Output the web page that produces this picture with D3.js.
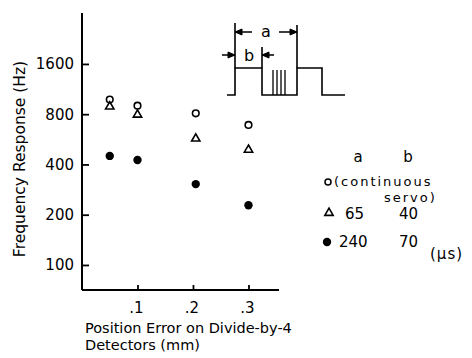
<!DOCTYPE html>
<html><head><meta charset="utf-8">
<script src="https://cdn.jsdelivr.net/npm/d3@7"></script>
<style>body{margin:0;background:#fff}svg{display:block}text{font-family:"DejaVu Sans",sans-serif;fill:#000}</style>
</head><body>
<script>
// data
const xValues = [0.05, 0.10, 0.205, 0.30];
const continuousServo = [980, 900, 810, 690];
const series65 = [895, 800, 575, 493];
const series240 = [450, 425, 305, 228];
const yTicks = [100, 200, 400, 800, 1600];
const xTicks = [0.1, 0.2, 0.3];
const xTickLabels = [".1", ".2", ".3"];

const W = 472, H = 358;
const svg = d3.select("body").append("svg").attr("width", W).attr("height", H);

const x = d3.scaleLinear().domain([0, 0.355]).range([82, 279]);
const y = d3.scaleLog().base(2).domain([70.8, 3230]).range([290, 13]);

// axes
const yAxis = d3.axisRight(y).tickValues(yTicks).tickSize(7).tickFormat("");
const gy = svg.append("g").attr("transform", `translate(${x(0)},0)`).call(yAxis);
gy.select(".domain").attr("d", `M0,${y.range()[1]}V${y.range()[0]}`).attr("stroke-width", 2);
gy.selectAll(".tick line").attr("stroke-width", 1.8);

const xAxis = d3.axisTop(x).tickValues(xTicks).tickSize(5).tickFormat("");
const gx = svg.append("g").attr("transform", `translate(0,${y.range()[0]})`).call(xAxis);
gx.select(".domain").attr("d", `M${x.range()[0]},0H${x.range()[1]}`).attr("stroke-width", 2);
gx.selectAll(".tick line").attr("stroke-width", 1.8);

// tick labels
svg.selectAll(".ylab").data(yTicks).enter().append("text")
  .attr("x", 74).attr("y", d => y(d)).attr("dy", "0.36em")
  .attr("text-anchor", "end").attr("font-size", 15).text(d => d);
svg.selectAll(".xlab").data(xTicks).enter().append("text")
  .attr("x", d => x(d) - 1).attr("y", 313)
  .attr("text-anchor", "middle").attr("font-size", 15).text((d, i) => xTickLabels[i]);

// axis titles
svg.append("text").attr("transform", "translate(25,159) rotate(-90)")
  .attr("text-anchor", "middle").attr("font-size", 15.5).text("Frequency Response (Hz)");
svg.append("text").attr("x", 85).attr("y", 333).attr("font-size", 14.5).text("Position Error on Divide-by-4");
svg.append("text").attr("x", 85).attr("y", 350).attr("font-size", 14.5).text("Detectors (mm)");

// marks
const tri = d3.symbol().type(d3.symbolTriangle).size(30);
svg.selectAll(".c").data(xValues).enter().append("circle")
  .attr("cx", d => x(d)).attr("cy", (d, i) => y(continuousServo[i])).attr("r", 3.3)
  .attr("fill", "none").attr("stroke", "#000").attr("stroke-width", 1.6);
svg.selectAll(".t").data(xValues).enter().append("path")
  .attr("d", tri).attr("transform", (d, i) => `translate(${x(d)},${y(series65[i]) + 0.5})`)
  .attr("fill", "none").attr("stroke", "#000").attr("stroke-width", 1.6);
svg.selectAll(".f").data(xValues).enter().append("circle")
  .attr("cx", d => x(d)).attr("cy", (d, i) => y(series240[i])).attr("r", 4.2)
  .attr("fill", "#000");

// legend
const lg = svg.append("g");
lg.append("text").attr("x", 358).attr("y", 162).attr("text-anchor", "middle").attr("font-size", 15).text("a");
lg.append("text").attr("x", 408).attr("y", 162).attr("text-anchor", "middle").attr("font-size", 15).text("b");
lg.append("circle").attr("cx", 328).attr("cy", 182).attr("r", 3).attr("fill", "none").attr("stroke", "#000").attr("stroke-width", 1.5);
lg.append("text").attr("x", 334).attr("y", 186).attr("font-size", 13).attr("letter-spacing", 2).text("(continuous");
lg.append("text").attr("x", 384).attr("y", 202).attr("font-size", 13).attr("letter-spacing", 2).text("servo)");
lg.append("path").attr("d", tri).attr("transform", "translate(329,213)").attr("fill", "none").attr("stroke", "#000").attr("stroke-width", 1.6);
lg.append("text").attr("x", 345).attr("y", 219).attr("font-size", 15).text("65");
lg.append("text").attr("x", 399).attr("y", 219).attr("font-size", 15).text("40");
lg.append("circle").attr("cx", 327).attr("cy", 242).attr("r", 4.2).attr("fill", "#000");
lg.append("text").attr("x", 339).attr("y", 247).attr("font-size", 15).text("240");
lg.append("text").attr("x", 399).attr("y", 247).attr("font-size", 15).text("70");
lg.append("text").attr("x", 430).attr("y", 259).attr("font-size", 15).attr("letter-spacing", 1).text("(\u00b5s)");

// inset timing diagram
const ins = svg.append("g").attr("fill", "none").attr("stroke", "#000").attr("stroke-width", 1.6);
ins.append("path").attr("d", "M227,95H235V68H262V95H297V68H322V95H345");
ins.append("path").attr("d", "M235,68V23M262,68V47M297,68V25");
[273, 277, 281, 285].forEach(px => ins.append("path").attr("d", `M${px},95V70`).attr("stroke-width", 1.3));
// arrows
const head = (tipX, tipY, dir) => `M${tipX},${tipY}L${tipX - dir * 7},${tipY - 3}L${tipX - dir * 7},${tipY + 3}Z`;
ins.append("path").attr("d", "M235,32H252M279,32H297M222,55H235M262,55H274");
[[235, 32, -1], [297, 32, 1], [235, 55, 1], [262, 55, -1]].forEach(a =>
  ins.append("path").attr("d", head(a[0], a[1], a[2])).attr("fill", "#000").attr("stroke-width", 1));
svg.append("text").attr("x", 266).attr("y", 37).attr("text-anchor", "middle").attr("font-size", 16).text("a");
svg.append("text").attr("x", 249).attr("y", 61).attr("text-anchor", "middle").attr("font-size", 16).text("b");
</script>
</body></html>
